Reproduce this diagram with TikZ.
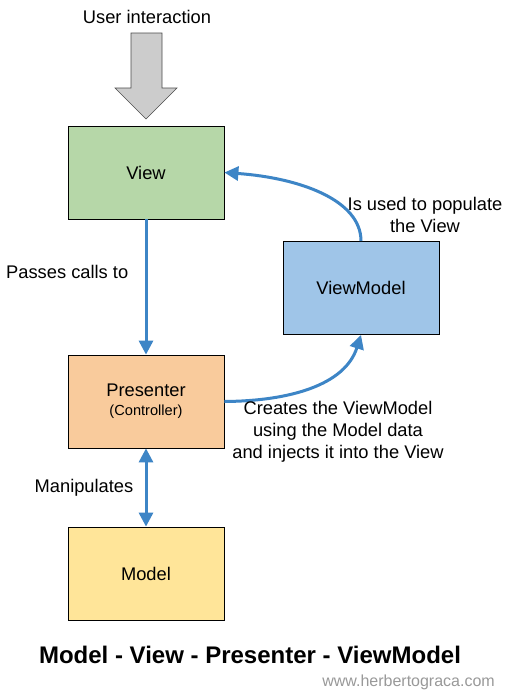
\documentclass[tikz,border=0pt]{standalone}
\usepackage{fontspec}
\setmainfont{Liberation Sans}
\usetikzlibrary{arrows.meta}
\definecolor{viewc}{HTML}{B6D7A8}
\definecolor{vmc}{HTML}{9FC5E8}
\definecolor{presc}{HTML}{F9CB9C}
\definecolor{modc}{HTML}{FFE599}
\definecolor{arrc}{HTML}{3D85C6}
\definecolor{grayf}{HTML}{CCCCCC}
\definecolor{urlc}{HTML}{999999}
\begin{document}
\begin{tikzpicture}[x=1pt,y=-1pt,
  box/.style={draw=black, line width=0.8pt, minimum width=156pt, minimum height=93pt, inner sep=0pt, font=\fontsize{18.3}{21}\selectfont},
  conn/.style={draw=arrc, line width=3pt, -{Triangle[length=14pt,width=14pt]}},
  lbl/.style={font=\fontsize{18.3}{22}\selectfont, align=center, inner sep=0pt}]
\useasboundingbox (0,0) rectangle (513,696);
\fill[white] (0,0) rectangle (513,696);
\node[box, fill=viewc] (view) at (146,172.5) {View};
\node[box, fill=vmc] (vm) at (361,288) {ViewModel};
\node[box, fill=presc, align=center] (pres) at (146,401.5) {Presenter\\[-2pt]{\fontsize{14.6}{17}\selectfont (Controller)}};
\node[box, fill=modc] (model) at (146,573.5) {Model};
\node[lbl] (ui) at (147,17) {User interaction};
\coordinate (g1) at (131,33);
\coordinate (g2) at (162,33);
\coordinate (g3) at (162,88);
\coordinate (g4) at (177,88);
\coordinate (gt) at (146,119);
\coordinate (g5) at (115,88);
\coordinate (g6) at (131,88);
\draw[fill=grayf, draw=black!70, line width=0.6pt] (g1) -- (g2) -- (g3) -- (g4) -- (gt) -- (g5) -- (g6) -- cycle;
\draw[conn] (view.south) -- (pres.north);
\node[lbl, anchor=west] (pc) at (6,272) {Passes calls to};
\draw[conn] (vm.north) .. controls (361,200) and (300,178) .. (view.east);
\node[lbl] (iu) at (425,215) {Is used to populate\\the View};
\draw[conn] (pres.east) .. controls (290,401) and (345,385) .. (vm.south);
\node[lbl] (cr) at (338,432) {Creates the ViewModel\\using the Model data\\and injects it into the View};
\draw[draw=arrc, line width=3pt, {Triangle[length=14pt,width=14pt]}-{Triangle[length=14pt,width=14pt]}] (pres.south) -- (model.north);
\node[lbl] (man) at (84,488) {Manipulates};
\node[font=\fontsize{24}{28}\selectfont\bfseries, inner sep=0pt] (title) at (250,655) {Model - View - Presenter - ViewModel};
\node[font=\fontsize{16}{19}\selectfont, text=urlc, anchor=east, inner sep=0pt] (url) at (495,682) {www.herbertograca.com};
\end{tikzpicture}
\end{document}
